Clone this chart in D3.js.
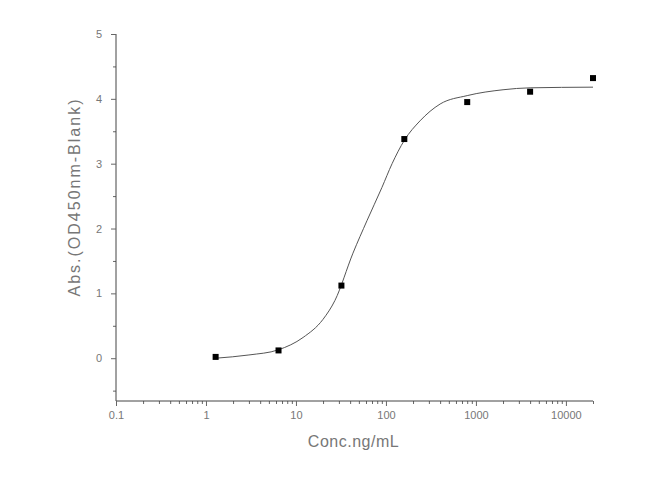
<!DOCTYPE html>
<html>
<head>
<meta charset="utf-8">
<script src="https://cdn.jsdelivr.net/npm/d3@7"></script>
<style>
  body { margin: 0; background: #fff; }
  svg { font-family: "Liberation Sans", Arial, sans-serif; }
</style>
</head>
<body>
<div id="chart"></div>
<script>
// measured points (conc ng/mL, absorbance)
var conc = [1.28, 6.4, 32, 160, 800, 4000, 20000];
var absorb = [0.02, 0.12, 1.12, 3.38, 3.95, 4.11, 4.32];

// fitted curve
var fitConc = [1.28, 3, 6.4, 12, 20, 27.1, 43, 61.5, 90, 117, 160, 239, 400, 800, 2000, 4000, 20000];
var fitAbs = [0.0, 0.05, 0.13, 0.32, 0.6, 0.89, 1.62, 2.12, 2.63, 3.0, 3.36, 3.66, 3.92, 4.05, 4.14, 4.17, 4.18];

var xTicks = [0.1, 1, 10, 100, 1000, 10000];
var yTicks = [0, 1, 2, 3, 4, 5];

var width = 653, height = 490;
var margin = {top: 34, right: 60, bottom: 89, left: 116};
var w = width - margin.left - margin.right;
var h = height - margin.top - margin.bottom;

var x = d3.scaleLog().domain([0.1, 20000]).range([0, w]);
var y = d3.scaleLinear().domain([-0.66, 5]).range([h, 0]);

var svg = d3.select("#chart")
    .append("svg")
    .attr("width", width)
    .attr("height", height);

var g = svg.append("g")
    .attr("transform", "translate(" + margin.left + "," + margin.top + ")");

// minor x ticks: 2..9 in every decade
var xMinor = [];
for (var d = -1; d <= 4; d++) {
    for (var k = 2; k <= 9; k++) {
        var v = k * Math.pow(10, d);
        if (v <= 20000) xMinor.push(v);
    }
}
var yMinor = [-0.5, 0.5, 1.5, 2.5, 3.5, 4.5];

var xAxis = g.append("g")
    .attr("transform", "translate(0," + h + ")");
xAxis.append("g")
    .call(d3.axisBottom(x).tickValues(xMinor).tickSize(3).tickFormat(""))
    .call(function(s) { s.select(".domain").remove(); });
xAxis.append("g")
    .call(d3.axisBottom(x).tickValues(xTicks).tickSize(5).tickPadding(5)
        .tickFormat(function(d) { return d < 1 ? "0.1" : d3.format("d")(d); }));

var yAxis = g.append("g");
yAxis.append("g")
    .call(d3.axisLeft(y).tickValues(yMinor).tickSize(3).tickFormat(""))
    .call(function(s) { s.select(".domain").remove(); });
yAxis.append("g")
    .call(d3.axisLeft(y).tickValues(yTicks).tickSize(5).tickPadding(9)
        .tickFormat(d3.format("d")));

g.selectAll(".domain").attr("stroke", "#444");
xAxis.select(".domain").attr("d", "M0,0H" + w);
yAxis.select(".domain").attr("d", "M0," + h + "V0");
g.selectAll(".tick line").attr("stroke", "#666");
g.selectAll(".tick text").attr("fill", "#777").style("font-size", "11px");

var line = d3.line()
    .x(function(d, i) { return x(fitConc[i]); })
    .y(function(d) { return y(d); })
    .curve(d3.curveMonotoneX);

g.append("path")
    .datum(fitAbs)
    .attr("fill", "none")
    .attr("stroke", "#555")
    .attr("stroke-width", 1)
    .attr("d", line);

g.selectAll("rect.pt")
    .data(absorb)
    .enter().append("rect")
    .attr("class", "pt")
    .attr("x", function(d, i) { return x(conc[i]) - 3; })
    .attr("y", function(d) { return y(d) - 3; })
    .attr("width", 6)
    .attr("height", 6)
    .attr("fill", "#000");

svg.append("text")
    .attr("x", margin.left + w / 2 - 1)
    .attr("y", 447)
    .attr("text-anchor", "middle")
    .attr("fill", "#777")
    .style("font-size", "16px")
    .style("letter-spacing", "0.5px")
    .text("Conc.ng/mL");

svg.append("text")
    .attr("transform", "translate(80,197) rotate(-90)")
    .attr("text-anchor", "middle")
    .attr("fill", "#777")
    .style("font-size", "16px")
    .style("letter-spacing", "2px")
    .text("Abs.(OD450nm-Blank)");
</script>
</body>
</html>
